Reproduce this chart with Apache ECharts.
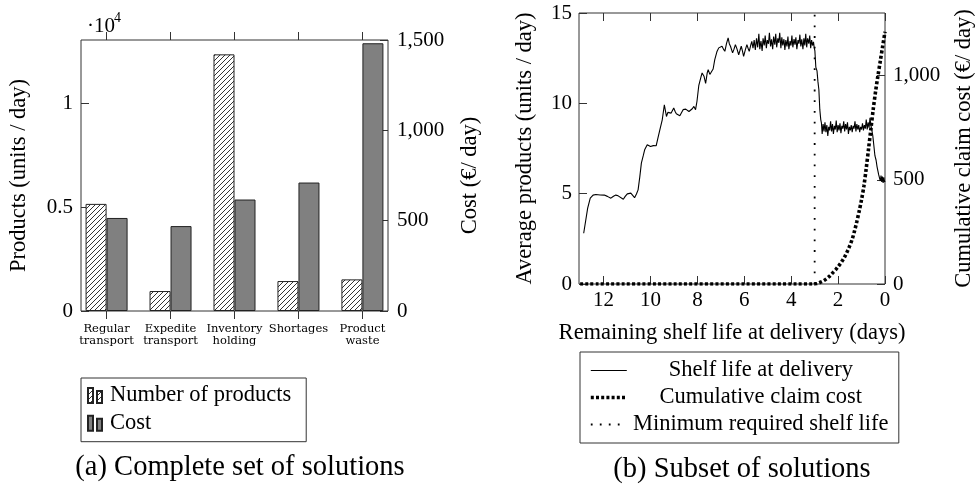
<!DOCTYPE html>
<html>
<head>
<meta charset="utf-8">
<script src="https://cdn.jsdelivr.net/npm/echarts@6/dist/echarts.min.js"></script>
<style>html,body{margin:0;padding:0;background:#fff}#c{width:977px;height:485px}</style>
</head>
<body>
<div id="c"></div>
<script>
// ---------- (a) Complete set of solutions ----------
const categories = ['Regular\ntransport', 'Expedite\ntransport', 'Inventory\nholding', 'Shortages', 'Product\nwaste'];
const numberOfProducts = [5150, 960, 12340, 1440, 1520];
const costValues = [515, 470, 617, 711, 1482];

// ---------- (b) Subset of solutions ----------
const shelfDays = [
12.85,12.68,12.57,12.45,12.33,12.15,11.97,11.84,11.69,11.58,11.48,11.38,11.30,11.16,11.08,10.99,10.84,10.76,10.68,10.60,10.53,10.46,10.39,10.31,10.25,10.14,10.07,10.00,9.88,9.76,9.68,9.60,9.50,9.41,9.32,9.26,9.22,9.12,9.01,8.95,8.90,8.75,8.61,8.50,8.47,8.36,8.22,8.15,8.08,8.02,7.94,7.85,7.80,7.72,7.65,7.58,7.54,7.47,7.40,7.33,7.26,7.17,7.09,6.95,6.89,6.83,6.76,6.69,6.64,6.59,6.50,6.44,6.38,6.31,6.24,6.18,6.13,6.08,6.03,5.96,5.89,5.84,5.79,5.73,5.68,
5.63,5.58,5.53,5.48,5.43,5.38,5.34,5.29,5.24,5.20,5.15,5.11,5.06,5.02,4.97,4.93,4.88,4.84,4.79,4.75,4.70,4.66,4.62,4.57,4.53,4.49,4.44,4.40,4.36,4.31,4.27,4.23,4.18,4.14,4.10,4.05,4.01,3.97,3.93,3.88,3.84,3.80,3.76,3.71,3.67,3.63,3.59,3.55,3.50,3.46,3.42,3.38,3.34,3.30,3.25,3.21,3.17,3.13,3.09,3.05,3.02,
2.99,2.95,2.90,2.86,2.82,2.78,2.74,2.71,
2.68,2.64,2.60,2.56,2.52,2.48,2.44,2.40,2.36,2.32,2.28,2.24,2.20,2.16,2.12,2.08,2.04,2.00,1.96,1.92,1.88,1.84,1.80,1.76,1.72,1.68,1.64,1.60,1.56,1.52,1.48,1.44,1.40,1.36,1.32,1.28,1.24,1.20,1.16,1.12,1.08,1.04,1.00,0.96,0.92,0.88,0.84,0.80,0.76,0.72,0.68,0.64,0.61,
0.56,0.52,0.47,0.43,0.38,0.34,0.31,0.27,0.24,0.20,0.17,0.14,0.11,0.08,0.05,0.02,0.00
];
const shelfProducts = [
2.81,4.20,4.75,4.92,4.95,4.93,4.92,4.85,4.75,4.86,4.92,4.88,4.84,4.69,4.85,4.99,5.03,4.95,4.78,4.98,5.21,5.90,6.69,7.10,7.43,7.71,7.64,7.61,7.66,7.65,8.10,8.54,9.09,9.92,9.27,9.50,9.55,9.46,9.74,9.55,9.42,9.31,9.65,9.68,9.61,9.55,9.70,9.83,9.65,10.10,11.00,11.45,11.68,11.50,11.10,11.70,11.86,11.60,11.49,11.90,12.42,12.85,13.07,13.16,13.00,12.88,13.30,13.62,13.30,13.16,12.79,13.00,13.25,13.00,12.69,12.95,13.16,12.90,12.60,12.95,13.25,13.05,12.88,13.20,13.43,
13.05,13.50,12.95,13.60,13.10,13.85,13.00,13.45,12.90,13.60,13.20,13.75,13.05,13.50,13.30,13.90,13.15,13.55,13.00,13.70,13.25,13.85,13.10,13.60,13.35,13.90,13.05,13.65,13.20,13.55,12.95,13.50,13.15,13.70,13.00,13.45,13.20,13.75,13.10,13.55,13.25,13.65,13.00,13.50,13.30,13.80,13.15,13.55,13.00,13.60,13.20,13.85,13.10,13.60,13.30,13.75,13.05,13.50,13.20,13.40,13.10,
12.90,12.00,11.80,11.20,10.75,9.65,9.10,8.90,
8.30,8.85,8.45,8.95,8.40,8.80,8.20,8.70,8.50,9.00,8.45,8.85,8.30,8.75,8.55,9.05,8.40,8.80,8.50,8.90,8.35,8.75,8.60,9.00,8.45,8.85,8.55,8.95,8.30,8.70,8.50,8.80,8.40,8.75,8.60,9.00,8.45,8.85,8.55,8.80,8.40,8.70,8.55,8.90,8.50,8.80,8.60,9.10,8.55,8.95,8.65,9.20,8.85,
8.50,8.20,7.60,7.10,6.85,6.50,6.30,6.05,5.90,5.70,6.00,5.65,5.95,5.60,5.90,5.65,5.70
];
const claimDays = [13.0, 3.0, 2.9, 2.8, 2.7, 2.6, 2.5, 2.4, 2.3, 2.2, 2.1, 2.0, 1.9, 1.8, 1.7, 1.6, 1.5, 1.4, 1.3, 1.2, 1.1, 1.0, 0.9, 0.8, 0.7, 0.6, 0.5, 0.4, 0.3, 0.2, 0.1, 0.0];
const claimCost = [0, 0, 2, 6, 11, 17, 25, 34, 45, 57, 69, 83, 98, 115, 135, 158, 184, 214, 254, 300, 350, 405, 470, 555, 650, 745, 840, 925, 1000, 1070, 1140, 1210];
const minShelfLife = 3;
const dayTicks = [0, 2, 4, 6, 8, 10, 12];

const SERIF = '"Liberation Serif", "DejaVu Serif", serif';
const AX = '#333';
const TK = '#333';

function hatch() {
  const c = document.createElement('canvas');
  c.width = 5; c.height = 5;
  const g = c.getContext('2d');
  g.fillStyle = '#fff'; g.fillRect(0, 0, 5, 5);
  g.strokeStyle = '#000'; g.lineWidth = 0.8;
  g.beginPath();
  g.moveTo(0, 5); g.lineTo(5, 0);
  g.moveTo(-1, 1); g.lineTo(1, -1);
  g.moveTo(4, 6); g.lineTo(6, 4);
  g.stroke();
  return c;
}
const fmtComma = v => String(v).replace(/\B(?=(\d{3})+(?!\d))/g, ',');

const chart = echarts.init(document.getElementById('c'), null, {renderer: 'canvas'});
const catIdx = categories.map((_, i) => i);
const noLine = {show: false, onZero: false};
// The day axis runs from 13 on the left to 0 on the right: positions are -days on a plain value axis.
const negDay = d => -d;
const negTicks = dayTicks.map(negDay);

const option = {
  animation: false,
  backgroundColor: '#fff',
  textStyle: {fontFamily: SERIF, color: '#000'},
  grid: [
    {left: 81, top: 40, width: 307, height: 271, show: true, borderColor: AX, borderWidth: 1, backgroundColor: 'transparent'},
    {left: 579, top: 13, width: 308, height: 271, show: true, borderColor: AX, borderWidth: 1, backgroundColor: 'transparent'}
  ],
  xAxis: [
    {gridIndex: 0, type: 'value', min: -0.4, max: 4.4, position: 'bottom',
      axisLine: noLine, splitLine: {show: false},
      axisTick: {show: true, inside: false, length: 8, lineStyle: {color: TK}, customValues: catIdx},
      axisLabel: {customValues: catIdx, formatter: v => categories[Math.round(v)], margin: 12,
        fontFamily: '"DejaVu Serif", serif', fontSize: 11.5, lineHeight: 12, color: '#000'}},
    {gridIndex: 0, type: 'value', min: -0.4, max: 4.4, position: 'top',
      axisLine: noLine, splitLine: {show: false},
      axisTick: {show: true, inside: false, length: 8, lineStyle: {color: TK}, customValues: catIdx},
      axisLabel: {show: false}},
    {gridIndex: 1, type: 'value', min: -13.05, max: 0, position: 'bottom',
      axisLine: noLine, splitLine: {show: false},
      axisTick: {show: true, inside: true, length: 8, lineStyle: {color: TK}, customValues: negTicks},
      axisLabel: {customValues: negTicks, formatter: v => String(Math.abs(v)), margin: 6, fontSize: 21, color: '#000', fontFamily: SERIF},
      name: 'Remaining shelf life at delivery (days)', nameLocation: 'middle', nameGap: 38,
      nameTextStyle: {fontSize: 22.5, fontFamily: SERIF, color: '#000'}},
    {gridIndex: 1, type: 'value', min: -13.05, max: 0, position: 'top',
      axisLine: noLine, splitLine: {show: false},
      axisTick: {show: true, inside: true, length: 8, lineStyle: {color: TK}, customValues: negTicks},
      axisLabel: {show: false}}
  ],
  yAxis: [
    {gridIndex: 0, type: 'value', min: 0, max: 13030, interval: 5000, position: 'left',
      axisLine: noLine, splitLine: {show: false},
      axisTick: {show: true, inside: true, length: 8, lineStyle: {color: TK}},
      axisLabel: {showMaxLabel: false, formatter: v => String(v / 10000), margin: 8, fontSize: 21, color: '#000', fontFamily: SERIF},
      name: 'Products (units / day)', nameLocation: 'middle', nameGap: 50,
      nameTextStyle: {fontSize: 22.5, fontFamily: SERIF, color: '#000'}},
    {gridIndex: 0, type: 'value', min: 0, max: 1500, interval: 500, position: 'right',
      axisLine: noLine, splitLine: {show: false},
      axisTick: {show: true, inside: true, length: 8, lineStyle: {color: TK}},
      axisLabel: {formatter: fmtComma, margin: 9, fontSize: 21, color: '#000', fontFamily: SERIF},
      name: 'Cost (€/ day)', nameLocation: 'middle', nameGap: 71,
      nameTextStyle: {fontSize: 22.5, fontFamily: SERIF, color: '#000'}},
    {gridIndex: 1, type: 'value', min: 0, max: 15, interval: 5, position: 'left',
      axisLine: noLine, splitLine: {show: false},
      axisTick: {show: true, inside: true, length: 8, lineStyle: {color: TK}},
      axisLabel: {margin: 7, fontSize: 21, color: '#000', fontFamily: SERIF},
      name: 'Average products (units / day)', nameLocation: 'middle', nameGap: 42,
      nameTextStyle: {fontSize: 22.5, fontFamily: SERIF, color: '#000'}},
    {gridIndex: 1, type: 'value', min: 0, max: 1300, interval: 500, position: 'right',
      axisLine: noLine, splitLine: {show: false},
      axisTick: {show: true, inside: true, length: 8, lineStyle: {color: TK}},
      axisLabel: {showMaxLabel: false, formatter: fmtComma, margin: 8, fontSize: 21, color: '#000', fontFamily: SERIF},
      name: 'Cumulative claim cost (€/ day)', nameLocation: 'middle', nameGap: 68,
      nameTextStyle: {fontSize: 22.5, fontFamily: SERIF, color: '#000'}}
  ],
  legend: [
    {orient: 'vertical', left: 81, top: 378, padding: [6, 15, 7, 6], itemGap: 4.7,
      itemWidth: 20, itemHeight: 15, borderColor: AX, borderWidth: 1,
      icon: 'path://M0,0h5v15h-5z M9,3h5v12h-5z',
      textStyle: {fontSize: 22.5, lineHeight: 22, fontFamily: SERIF, color: '#000'},
      data: ['Number of products', 'Cost']},
    {orient: 'vertical', left: 580, top: 352, padding: [7, 9, 7, 9], itemGap: 4,
      itemWidth: 36, itemHeight: 14, borderColor: AX, borderWidth: 1,
      itemStyle: {opacity: 0},
      formatter: n => '{t|' + n + '}',
      textStyle: {fontSize: 22.5, lineHeight: 22, fontFamily: SERIF, color: '#000',
        rich: {t: {width: 258, align: 'center', fontSize: 22.5, lineHeight: 22, fontFamily: SERIF, color: '#000'}}},
      data: [
        {name: 'Shelf life at delivery', lineStyle: {width: 1.2, type: 'solid'}},
        {name: 'Cumulative claim cost', lineStyle: {width: 3.6, type: [3, 2.2]}},
        {name: 'Minimum required shelf life', lineStyle: {width: 1.8, type: [1.8, 7.2]}}
      ]}
  ],
  graphic: [
    {type: 'text', left: 87, top: 16, style: {text: '·10', font: '21px ' + SERIF, fill: '#000'}},
    {type: 'text', left: 114, top: 11, style: {text: '4', font: '14px ' + SERIF, fill: '#000'}},
    {type: 'text', x: 240, y: 468, style: {text: '(a) Complete set of solutions', font: '28.5px ' + SERIF, fill: '#000', textAlign: 'center', textVerticalAlign: 'middle'}},
    {type: 'text', x: 742, y: 470, style: {text: '(b) Subset of solutions', font: '28.5px ' + SERIF, fill: '#000', textAlign: 'center', textVerticalAlign: 'middle'}}
  ],
  series: [
    {name: 'Number of products', type: 'bar', xAxisIndex: 0, yAxisIndex: 0, barWidth: 21, barGap: '0%',
      data: numberOfProducts.map((v, i) => [i, v]),
      itemStyle: {color: {image: hatch(), repeat: 'repeat'}, borderColor: '#222', borderWidth: 1}},
    {name: 'Cost', type: 'bar', xAxisIndex: 0, yAxisIndex: 1, barWidth: 21, barGap: '0%',
      data: costValues.map((v, i) => [i, v]),
      itemStyle: {color: '#808080', borderColor: '#222', borderWidth: 1}},
    {name: 'Shelf life at delivery', type: 'line', xAxisIndex: 2, yAxisIndex: 2, symbol: 'none',
      data: shelfDays.map((d, i) => [negDay(d), shelfProducts[i]]),
      lineStyle: {color: '#000', width: 1.1}, itemStyle: {color: '#000'}},
    {name: 'Cumulative claim cost', type: 'line', xAxisIndex: 2, yAxisIndex: 3, symbol: 'none', smooth: 0.3,
      data: claimDays.map((d, i) => [negDay(d), claimCost[i]]),
      lineStyle: {color: '#000', width: 3.6, type: [3, 2.2], cap: 'butt'}, itemStyle: {color: '#000'}},
    {name: 'Minimum required shelf life', type: 'line', xAxisIndex: 2, yAxisIndex: 2, symbol: 'none',
      data: [[negDay(minShelfLife), 0], [negDay(minShelfLife), 15]],
      lineStyle: {color: '#000', width: 1.8, type: [1.8, 8.9], cap: 'butt'}, itemStyle: {color: '#000'}}
  ]
};
chart.setOption(option);
</script>
</body>
</html>
